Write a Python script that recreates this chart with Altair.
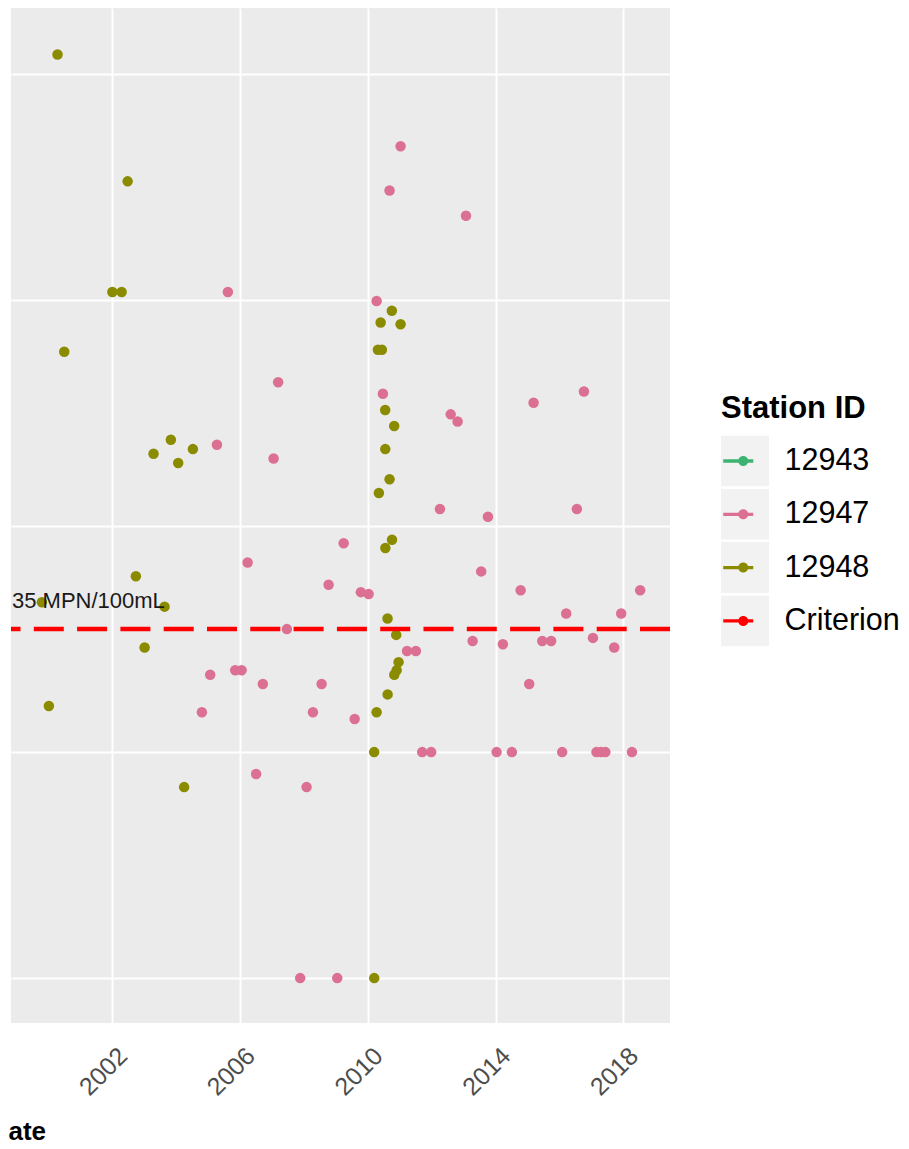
import altair as alt
import pandas as pd

# ---------------- data ----------------
stations = ["12943", "12947", "12948", "Criterion"]
station_colors = ["#3CB371", "#DB7093", "#8B8B00", "#FF0000"]

s12948_dates = [
    "2000-04-15", "2002-06-26", "2002-01-02", "2002-04-18", "2000-07-01",
    "2003-11-02", "2003-04-18", "2004-07-11", "2004-01-25", "2002-09-28",
    "1999-10-19", "2003-08-22", "2003-01-06", "2000-01-07", "2004-04-02",
    "2010-10-03", "2010-05-28", "2011-01-11", "2010-04-27", "2010-06-11",
    "2010-07-19", "2010-10-30", "2010-07-20", "2010-09-07", "2010-05-08",
    "2010-10-05", "2010-07-21", "2010-08-15", "2010-11-22", "2010-12-19",
    "2010-11-27", "2010-10-31", "2010-08-16", "2010-04-12", "2010-03-15",
    "2010-03-16",
]
s12948_values = [
    12200, 3350, 1085, 1085, 590,
    241, 209, 219, 190, 60,
    46, 44, 29, 16, 7,
    896, 796, 782, 603, 603,
    326, 277, 219, 161, 140,
    87, 80, 39, 33, 25,
    23, 22, 18, 15, 10,
    1,
]

s12947_dates = [
    "2005-08-15", "2011-01-11", "2010-09-07", "2013-01-28", "2010-04-12",
    "2007-03-13", "2005-04-12", "2007-01-20", "2006-03-29", "2008-10-10",
    "2007-06-21", "2005-01-25", "2005-11-07", "2006-01-19", "2006-09-19",
    "2008-07-22", "2009-03-31", "2010-06-23", "2012-08-06", "2012-10-24",
    "2015-03-12", "2016-10-08", "2012-04-05", "2013-10-06", "2016-07-19",
    "2009-10-14", "2010-01-11", "2013-07-21", "2014-10-15", "2018-07-13",
    "2016-03-19", "2017-12-08", "2013-04-14", "2014-03-26", "2015-06-19",
    "2015-09-29", "2017-01-19", "2017-09-19", "2011-03-26", "2011-07-05",
    "2015-01-21", "2004-10-22", "2008-04-14", "2006-07-04", "2008-02-01",
    "2009-08-04", "2011-09-15", "2011-12-27", "2014-01-13", "2014-07-07",
    "2016-02-02", "2017-02-28", "2017-04-20", "2017-06-10", "2018-04-10",
    "2007-11-20", "2009-01-17",
]
s12947_values = [
    1085, 4790, 3050, 2360, 990,
    433, 229, 199, 69, 55,
    35, 22, 23, 23, 20,
    20, 84, 385, 312, 290,
    351, 394, 119, 110, 119,
    51, 50, 63, 52, 52,
    41, 41, 31, 30, 31,
    31, 32, 29, 28, 28,
    20, 15, 15, 8, 7,
    14, 10, 10, 10, 10,
    10, 10, 10, 10, 10,
    1, 1,
]

criterion_value = 35
criterion_label = "35 MPN/100mL"
x_tick_years = [2002, 2006, 2010, 2014, 2018]
y_grid_values = [1, 10, 100, 1000, 10000]
x_domain = ["1998-10-31", "2019-06-19"]
y_domain = [0.633, 19590]
key_boxes = ["box " + s for s in stations]   # grey key backgrounds

# ---------------- tables ----------------
obs = pd.DataFrame({
    "date": pd.to_datetime(s12948_dates + s12947_dates),
    "value": s12948_values + s12947_values,
    "station": ["12948"] * len(s12948_dates) + ["12947"] * len(s12947_dates),
})
crit = pd.DataFrame({"value": [criterion_value]})
lab = pd.DataFrame({"date": pd.to_datetime([x_domain[0]]),
                    "value": [criterion_value], "label": [criterion_label]})
keys = pd.DataFrame({"key": key_boxes,
                     "date": pd.to_datetime([x_domain[0]] * 4),
                     "value": [criterion_value] * 4})

FONT = "Liberation Sans"
LINE_DOT = ("M-1,-0.11H1V0.11H-1Z "
            "M0,0A0.333,0.333,0,1,1,0.667,0A0.333,0.333,0,1,1,0,0Z")
BOX = "M-1,-1.0625H1V1.0625H-1Z"

d0 = pd.Timestamp(x_domain[0]); d1 = pd.Timestamp(x_domain[1])
x_scale = alt.Scale(domain=[alt.DateTime(year=d0.year, month=d0.month, date=d0.day),
                            alt.DateTime(year=d1.year, month=d1.month, date=d1.day)],
                    nice=False)
y_scale = alt.Scale(type="log", domain=y_domain, nice=False)

x_axis = alt.Axis(
    values=[alt.DateTime(year=y, month=1, date=1) for y in x_tick_years],
    format="%Y", labelAngle=315, labelAlign="right", labelBaseline="top",
    labelOffset=2, labelPadding=20, labelFontSize=25, labelFont=FONT,
    labelColor="#4D4D4D", labelFlush=False, labelOverlap=False,
    ticks=False, domain=False, grid=True, gridColor="white", gridWidth=2,
    title="Date", titleFont=FONT, titleFontSize=26, titleFontWeight="bold",
    titleColor="black", titleAlign="left", titleBaseline="alphabetic",
    titleAnchor="start", titleX=-21.8, titleY=116,
)
y_axis = alt.Axis(values=y_grid_values, labels=False, ticks=False, domain=False,
                  grid=True, gridColor="white", gridWidth=2, title=None)

X = alt.X("date:T", scale=x_scale, axis=x_axis)
Y = alt.Y("value:Q", scale=y_scale, axis=y_axis)

legend_common = dict(orient="none", legendX=710, padding=0,
                     clipHeight=51, rowPadding=2.3)

# grey key backgrounds (legend without title or labels, drawn underneath)
boxes = alt.Chart(keys).mark_point(filled=True, size=0, color="#F2F2F2").encode(
    x=X, y=Y,
    shape=alt.Shape("key:N", scale=alt.Scale(domain=key_boxes, range=[BOX] * 4),
                    legend=alt.Legend(title=None, legendY=427.5, labelExpr="''",
                                      symbolSize=2304, symbolOffset=0,
                                      symbolStrokeWidth=0, symbolOpacity=1,
                                      labelOffset=0, zindex=1, **legend_common)),
)

points = alt.Chart(obs).mark_point(filled=True, size=110, opacity=1).encode(
    x=X, y=Y,
    color=alt.Color("station:N", scale=alt.Scale(domain=stations, range=station_colors),
                    legend=alt.Legend(title="Station ID", legendY=385.5,
                                      titleFont=FONT, titleFontSize=31,
                                      titleFontWeight="bold", titleColor="black",
                                      titlePadding=11, labelFont=FONT,
                                      labelFontSize=30.5, labelColor="black",
                                      symbolType=LINE_DOT, symbolSize=900,
                                      symbolOffset=2, symbolStrokeWidth=0,
                                      symbolOpacity=1, labelOffset=31, zindex=2,
                                      **legend_common)),
)

rule = alt.Chart(crit).mark_rule(color="#FF0000", strokeWidth=4.5,
                                 strokeDash=[30, 13.3]).encode(y=Y)

text = alt.Chart(lab).mark_text(align="left", baseline="alphabetic", dx=1, dy=-21,
                                fontSize=22, font=FONT, color="#1A1A1A").encode(
    x=X, y=Y, text="label:N")

chart = alt.layer(boxes, points, rule, text).properties(
    width=659, height=1015,
    autosize=alt.AutoSizeParams(type="none"),
    padding={"left": 3, "top": 0, "right": 231, "bottom": 118},
).configure_view(fill="#EBEBEB", strokeWidth=0)

chart.save("out.html", embed_options={"renderer": "svg", "actions": False})
